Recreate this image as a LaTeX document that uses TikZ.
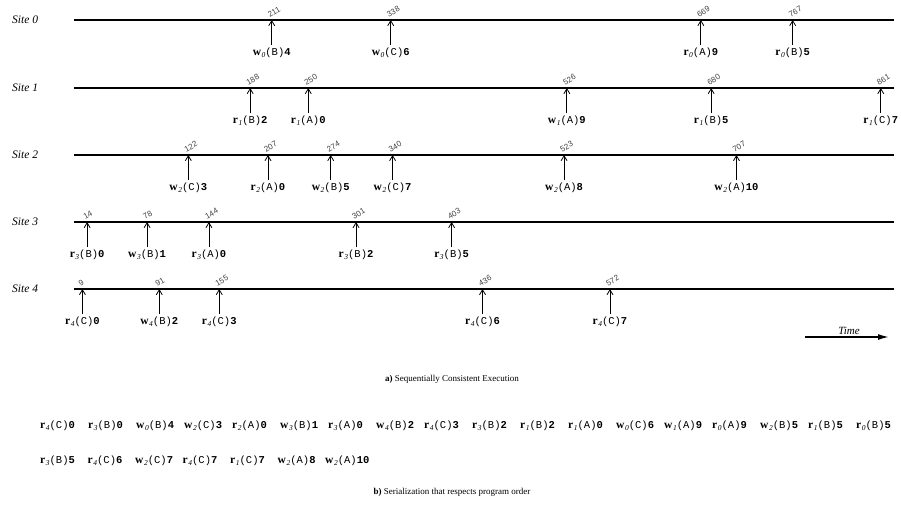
\documentclass[tikz,border=0pt]{standalone}
\usepackage{fontspec}
\setmainfont{Liberation Serif}
\newfontfamily\monof{Liberation Mono}
\newfontfamily\tickf{Liberation Sans}
\usetikzlibrary{arrows.meta}
\newcommand\opl[4]{{\fontsize{10.5}{12}\selectfont\textbf{\fontsize{11.5}{12}\selectfont #1}\kern0.6pt\raisebox{-0.45ex}{\fontsize{7.5}{7}\selectfont\itshape #2}{\monof(#3)}{\monof\bfseries #4}}}
\tikzset{
  siteline/.style={line width=1.6pt},
  sitelab/.style={font=\fontsize{11.5}{13}\selectfont\itshape, anchor=west, inner sep=0pt},
  evarrow/.style={line width=0.8pt, -{Straight Barb[length=5pt,width=6pt,line width=0.8pt]}},
  tickno/.style={font=\tickf\fontsize{8}{8}\selectfont, text=black!75, rotate=30, anchor=south west, inner sep=0.3pt},
  oplab/.style={inner sep=0pt, anchor=north},
  serlab/.style={inner sep=0pt, anchor=west},
  capt/.style={font=\fontsize{9}{11}\selectfont, inner sep=0pt}
}
\begin{document}
\begin{tikzpicture}[x=1pt,y=-1pt]
\useasboundingbox (0,0) rectangle (901,506);
% site lines
\foreach \s/\yy in {0/20,1/88,2/155,3/222,4/289}{
  \node[sitelab] (site\s) at (12,\yy) {Site \s};
  \coordinate (ls\s) at (74,\yy);
  \coordinate (le\s) at (894,\yy);
  \draw[siteline] (ls\s) -- (le\s);
}
% events: site/time/op/object/value
\foreach \s/\yy/\t/\o/\b/\v in {
  0/20/211/w/B/4, 0/20/338/w/C/6, 0/20/669/r/A/9, 0/20/767/r/B/5,
  1/88/188/r/B/2, 1/88/250/r/A/0, 1/88/526/w/A/9, 1/88/680/r/B/5, 1/88/861/r/C/7,
  2/155/122/w/C/3, 2/155/207/r/A/0, 2/155/274/w/B/5, 2/155/340/w/C/7, 2/155/523/w/A/8, 2/155/707/w/A/10,
  3/222/14/r/B/0, 3/222/78/w/B/1, 3/222/144/r/A/0, 3/222/301/r/B/2, 3/222/403/r/B/5,
  4/289/9/r/C/0, 4/289/91/w/B/2, 4/289/155/r/C/3, 4/289/436/r/C/6, 4/289/572/r/C/7}{
  \pgfmathsetmacro\xx{74+0.937*\t}
  \coordinate (p\s-\t) at (\xx,\yy);
  \node[oplab] (l\s-\t) at (\xx,\yy+28) {\opl{\o}{\s}{\b}{\v}};
  \draw[evarrow] ([yshift=3pt]l\s-\t.north) -- (p\s-\t);
  \node[tickno] (n\s-\t) at (\xx-2,\yy-2) {\t};
}
% time arrow
\node[font=\fontsize{11}{13}\selectfont\itshape, inner sep=0pt, anchor=south] (timelab) at (849,335) {Time};
\coordinate (ts) at (805,337);
\coordinate (te) at (889,337);
\draw[line width=1.5pt, -{Latex[length=11pt,width=6pt]}] (ts) -- (te);
% caption a
\node[capt] (capa) at (452,379) {\textbf{a)} Sequentially Consistent Execution};
% serialization
\foreach \i/\o/\s/\b/\v in {0/r/4/C/0,1/r/3/B/0,2/w/0/B/4,3/w/2/C/3,4/r/2/A/0,5/w/3/B/1,6/r/3/A/0,7/w/4/B/2,8/r/4/C/3,9/r/3/B/2,10/r/1/B/2,11/r/1/A/0,12/w/0/C/6,13/w/1/A/9,14/r/0/A/9,15/w/2/B/5,16/r/1/B/5,17/r/0/B/5}{
  \node[serlab] (sa\i) at (40+48*\i,426) {\opl{\o}{\s}{\b}{\v}};
}
\foreach \i/\o/\s/\b/\v in {0/r/3/B/5,1/r/4/C/6,2/w/2/C/7,3/r/4/C/7,4/r/1/C/7,5/w/2/A/8,6/w/2/A/10}{
  \node[serlab] (sb\i) at (40+47.5*\i,461) {\opl{\o}{\s}{\b}{\v}};
}
\node[capt] (capb) at (452,492) {\textbf{b)} Serialization that respects program order};
\end{tikzpicture}
\end{document}
